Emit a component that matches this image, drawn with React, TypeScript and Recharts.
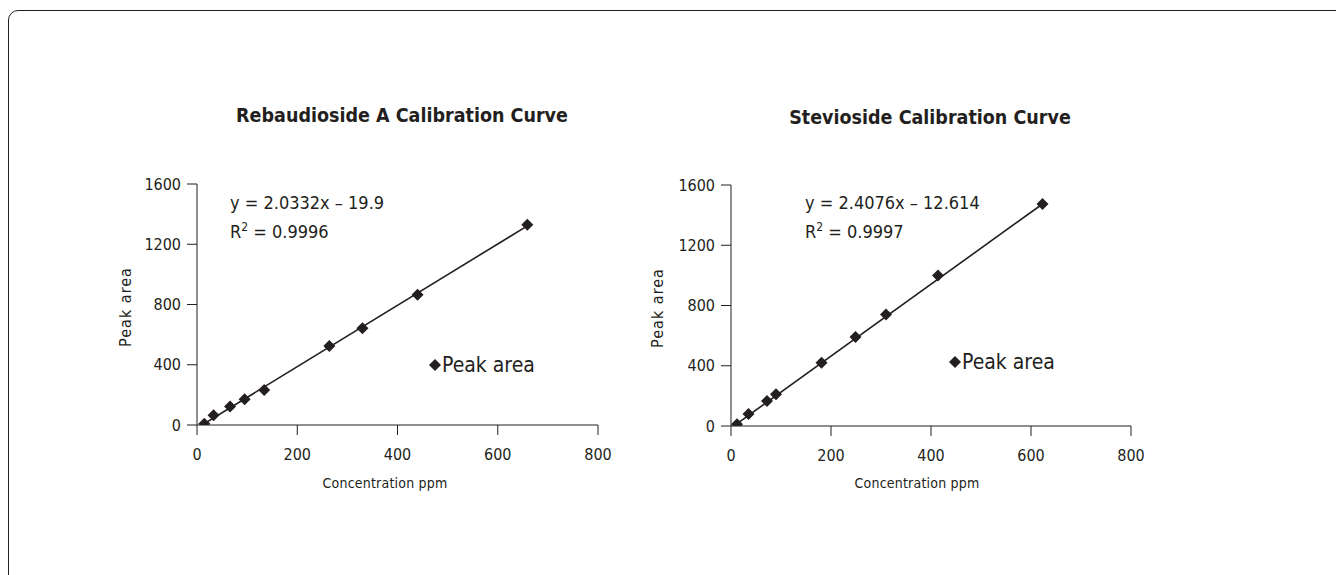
import React from "react";
import { ScatterChart, Scatter, XAxis, YAxis } from "recharts";

// ---- Data ----
const rebConc = [14.6, 33, 66, 95, 134, 264, 330, 440, 659];
const rebArea = [9, 64, 122, 171, 233, 525, 643, 864, 1330];
const rebTrendX = [10, 659];
const rebTrendY = [0, 1322];

const steConc = [12, 35, 72, 90, 181, 249, 310, 414, 623];
const steArea = [11, 80, 166, 210, 420, 591, 741, 1000, 1474];
const steTrendX = [8, 623];
const steTrendY = [6, 1474];

const xTicks = [0, 200, 400, 600, 800];
const yTicks = [0, 400, 800, 1200, 1600];

const FONT = "'DejaVu Sans', 'Liberation Sans', sans-serif";
const INK = "#231f20";

const zip = (xs: number[], ys: number[]) => xs.map((x, i) => ({ x, y: ys[i] }));

const Diamond = (props: any) => {
  const { cx, cy } = props;
  if (cx == null || cy == null) return <g />;
  const r = 6;
  return (
    <path
      d={`M${cx},${cy - r}L${cx + r},${cy}L${cx},${cy + r}L${cx - r},${cy}Z`}
      fill={INK}
    />
  );
};

const NoShape = () => <g />;

type ChartProps = {
  left: number;
  top: number;
  margin: { top: number; right: number; bottom: number; left: number };
  points: { x: number; y: number }[];
  trend: { x: number; y: number }[];
  title: string;
  titleX: number;
  titleY: number;
  eq1: string;
  eq2: string;
  eqX: number;
  eqY: number;
  legendX: number;
  legendY: number;
  yLabelX: number;
  yLabelY: number;
  xLabelX: number;
  xLabelY: number;
};

const baseText: React.CSSProperties = {
  position: "absolute",
  fontFamily: FONT,
  fontStretch: "condensed",
  color: INK,
  whiteSpace: "nowrap",
};

const CalibChart = (p: ChartProps) => {
  const W = 520;
  const H = 400;
  return (
    <>
      <div
        style={{
          ...baseText,
          left: p.titleX,
          top: p.titleY,
          transform: "translate(-50%, -50%)",
          fontWeight: "bold",
          fontSize: 19.5,
        }}
      >
        {p.title}
      </div>
      <div style={{ position: "absolute", left: p.left, top: p.top }}>
        <ScatterChart width={W} height={H} margin={p.margin}>
          <XAxis
            type="number"
            dataKey="x"
            domain={[0, 800]}
            ticks={xTicks}
            tickSize={10}
            tickMargin={14}
            axisLine={{ stroke: INK, strokeWidth: 1 }}
            tickLine={{ stroke: INK, strokeWidth: 1 }}
            tick={{ fill: INK, fontFamily: FONT, fontStretch: "condensed", fontSize: 16 }}
            height={30}
            allowDataOverflow
          />
          <YAxis
            type="number"
            dataKey="y"
            domain={[0, 1600]}
            ticks={yTicks}
            tickSize={10}
            tickMargin={6}
            axisLine={{ stroke: INK, strokeWidth: 1 }}
            tickLine={{ stroke: INK, strokeWidth: 1 }}
            tick={{ fill: INK, fontFamily: FONT, fontStretch: "condensed", fontSize: 16 }}
            width={60}
            allowDataOverflow
          />
          <Scatter
            name="trend"
            data={p.trend}
            line={{ stroke: INK, strokeWidth: 1.6 }}
            shape={NoShape}
            legendType="none"
            isAnimationActive={false}
          />
          <Scatter
            name="Peak area"
            data={p.points}
            shape={Diamond}
            fill={INK}
            isAnimationActive={false}
          />
        </ScatterChart>
      </div>
      <div
        style={{
          ...baseText,
          left: p.legendX,
          top: p.legendY,
          transform: "translateY(-50%)",
          display: "flex",
          alignItems: "center",
          fontSize: 21,
        }}
      >
        <svg width={12} height={12} style={{ marginRight: 1 }}>
          <path d="M6,0L12,6L6,12L0,6Z" fill={INK} />
        </svg>
        <span>Peak area</span>
      </div>
      <div
        style={{
          ...baseText,
          left: p.eqX,
          top: p.eqY,
          fontSize: 18,
          lineHeight: "25px",
        }}
      >
        <div>{p.eq1}</div>
        <div>
          R<span style={{ fontSize: 12, verticalAlign: 7 }}>2</span>
          {p.eq2}
        </div>
      </div>
      <div
        style={{
          ...baseText,
          left: p.yLabelX,
          top: p.yLabelY,
          transform: "translate(-50%, -50%) rotate(-90deg)",
          fontSize: 16,
          letterSpacing: 1,
        }}
      >
        Peak area
      </div>
      <div
        style={{
          ...baseText,
          left: p.xLabelX,
          top: p.xLabelY,
          transform: "translate(-50%, -50%)",
          fontSize: 14,
          letterSpacing: 0.2,
        }}
      >
        Concentration ppm
      </div>
    </>
  );
};

export default function App() {
  return (
    <div
      style={{
        position: "fixed",
        left: 0,
        top: 0,
        width: 1336,
        height: 575,
        overflow: "hidden",
        background: "#fff",
      }}
    >
      <div
        style={{
          position: "absolute",
          left: 8,
          top: 10,
          width: 1400,
          height: 700,
          border: `1.5px solid ${INK}`,
          borderRadius: 10,
          boxSizing: "border-box",
        }}
      />
      <CalibChart
        left={100}
        top={90}
        margin={{ top: 94, right: 22, bottom: 35, left: 37 }}
        points={zip(rebConc, rebArea)}
        trend={zip(rebTrendX, rebTrendY)}
        title="Rebaudioside A Calibration Curve"
        titleX={402}
        titleY={115}
        eq1="y = 2.0332x – 19.9"
        eq2=" = 0.9996"
        eqX={230}
        eqY={190}
        legendX={429}
        legendY={365}
        yLabelX={125}
        yLabelY={307}
        xLabelX={385}
        xLabelY={483}
      />
      <CalibChart
        left={640}
        top={90}
        margin={{ top: 95, right: 29, bottom: 34, left: 31 }}
        points={zip(steConc, steArea)}
        trend={zip(steTrendX, steTrendY)}
        title="Stevioside Calibration Curve"
        titleX={930}
        titleY={117}
        eq1="y = 2.4076x – 12.614"
        eq2=" = 0.9997"
        eqX={805}
        eqY={190}
        legendX={949}
        legendY={362}
        yLabelX={657}
        yLabelY={308}
        xLabelX={917}
        xLabelY={483}
      />
    </div>
  );
}
